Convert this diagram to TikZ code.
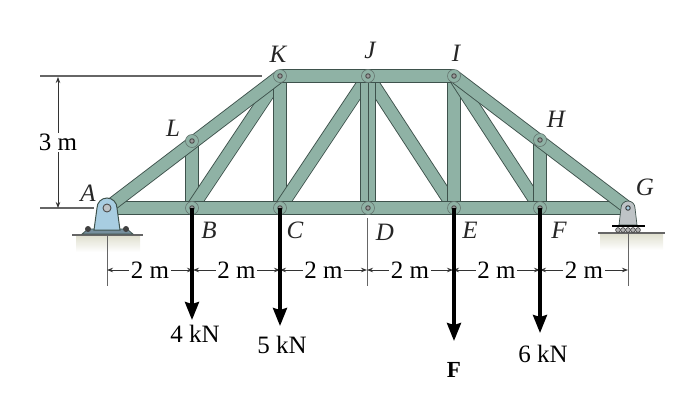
\documentclass[tikz,border=0pt]{standalone}
\usepackage{fontspec}
\setmainfont{Liberation Serif}
\usetikzlibrary{arrows.meta}
\definecolor{trussgreen}{RGB}{143,178,165}
\definecolor{trussdark}{RGB}{62,82,76}
\definecolor{pinblue}{RGB}{168,205,225}
\definecolor{pingray}{RGB}{190,195,198}
\definecolor{groundtan}{RGB}{222,222,205}
\begin{document}
\begin{tikzpicture}[x=1pt,y=-1pt,
	member/.style={
		line width=0.9pt, draw=trussdark, double=trussgreen, double distance=11.5pt
	},
	joint/.style={
		circle, draw=trussdark!80, fill=trussgreen, line width=0.6pt, inner sep=0pt, minimum size=13pt
	},
	hole/.style={
		circle, draw=black!70, fill=black!40, line width=0.9pt, inner sep=0pt, minimum size=4.5pt
	},
	extline/.style={
		draw=black!60, line width=1.4pt
	},
	dimline/.style={
		draw=black!80, line width=0.8pt, {Stealth[length=6pt,width=4.5pt]}-{Stealth[length=6pt,width=4.5pt]}
	},
	dimlabel/.style={
		fill=white, inner sep=1.5pt, font=\fontsize{25}{28}\selectfont
	},
	load/.style={
		draw=black, line width=3.4pt, -{Stealth[length=18pt,width=14pt,inset=2pt]}
	},
	loadlabel/.style={
		font=\fontsize{25}{28}\selectfont
	},
	jointlabel/.style={
		font=\fontsize{25}{28}\selectfont\itshape, text=black!85
	}]
	\useasboundingbox (0,0) rectangle (683,408);
	
	% Define the joints
	\coordinate (A) at (107,208);
	\coordinate (B) at (192,208);
	\coordinate (C) at (280,208);
	\coordinate (D) at (368,208);
	\coordinate (E) at (454,208);
	\coordinate (F) at (540,208);
	\coordinate (G) at (628,208);
	\coordinate (H) at (540,140);
	\coordinate (I) at (454,76);
	\coordinate (J) at (368,76);
	\coordinate (K) at (280,76);
	\coordinate (L) at (192,141);
	
	% Ground under the supports
	\shade[top color=groundtan, bottom color=white] (76,235) rectangle (140,252);
	\shade[top color=groundtan, bottom color=white] (600,233) rectangle (663,250);
	\draw[black!60, line width=1.2pt] (72,235) -- (143,235);
	\draw[black!60, line width=1.2pt] (598,233) -- (665,233);
	
	% Extension lines of the dimensions
	\coordinate (TOPL) at (40,76);
	\coordinate (TOPR) at (262,76);
	\coordinate (BOTL) at (40,208);
	\coordinate (BOTR) at (94,208);
	\draw[extline] (TOPL) -- (TOPR);
	\draw[extline] (BOTL) -- (BOTR);
	\draw[extline, line width=1pt] (107,235) -- (107,286);
	\draw[extline, line width=1pt] (367,218) -- (367,286);
	\draw[extline, line width=1pt] (628,233) -- (628,286);
	
	% Height dimension
	\coordinate (H1) at (58,77);
	\coordinate (H2) at (58,208);
	\draw[dimline] (H1) -- (H2) node[midway, dimlabel] (HL) {3 m};
	
	% Span dimensions
	\foreach \nm/\xa/\xb in {a/107/193,b/193/280,c/280/367,d/367/453,e/453/540,f/540/628}{
		\coordinate (\nm1) at (\xa,270);
		\coordinate (\nm2) at (\xb,270);
		\draw[dimline] (\nm1) -- (\nm2) node[midway, dimlabel] (\nm L) {2 m};
	}
	
	% Web members first, then the chords on top
	\foreach \p/\q in {L/B,K/B,K/C,C/J,J/E,I/E,I/F,H/F}{
		\draw[member] (\p) -- (\q);
	}
	\draw[member, double distance=13.5pt] (J) -- (D);
	\draw[trussdark, line width=0.9pt] (J) -- (D);
	\draw[member] (A) -- (G);
	\draw[member] (K) -- (I);
	\draw[member] (A) -- (K);
	\draw[member] (I) -- (G);
	
	% Pins at the joints
	\foreach \p in {B,C,D,E,F,H,I,J,K,L}{
		\node[joint] (P\p) at (\p) {};
		\node[hole] at (\p) {};
	}
	
	% Pin support at A
	\filldraw[fill=pinblue!70!black, draw=trussdark, line width=0.7pt] (82,234) -- (88,229) -- (127,229) -- (133,234) -- cycle;
	\fill[black!75] (88,229) circle (3pt);
	\fill[black!75] (126,229) circle (3pt);
	\filldraw[fill=pinblue, draw=trussdark, line width=1pt] (94,230) -- (97,208) arc[start angle=180, end angle=360, radius=10] -- (120,230) -- cycle;
	\node[hole, minimum size=8pt, draw=black!70, fill=pingray] at (A) {};
	
	% Roller support at G
	\filldraw[fill=pingray, draw=trussdark, line width=0.7pt] (619,225) -- (621,208) arc[start angle=180, end angle=360, radius=7] -- (637,225) -- cycle;
	\draw[black, line width=2.4pt] (612,226) -- (645,226);
	\foreach \x in {618,623,628,633,638}{
		\filldraw[fill=black!30, draw=black!80, line width=0.6pt] (\x,230) circle (2.4pt);
	}
	\node[hole, fill=pinblue, draw=black!80] at (G) {};
	
	% Applied loads
	\coordinate (LB) at (192,320);
	\coordinate (LC) at (280,326);
	\coordinate (LE) at (454,341);
	\coordinate (LF) at (540,333);
	\draw[load] (B) -- (LB);
	\draw[load] (C) -- (LC);
	\draw[load] (E) -- (LE);
	\draw[load] (F) -- (LF);
	\node[loadlabel] (T4) at (195,334) {4 kN};
	\node[loadlabel] (T5) at (282,345) {5 kN};
	\node[loadlabel, font=\fontsize{23}{26}\selectfont\bfseries] (TF) at (454,370) {F};
	\node[loadlabel] (T6) at (543,354) {6 kN};
	
	% Labels of the joints
	\node[jointlabel] (NK) at (278,54) {K};
	\node[jointlabel] (NJ) at (370,50) {J};
	\node[jointlabel] (NI) at (456,53) {I};
	\node[jointlabel] (NL) at (173,128) {L};
	\node[jointlabel] (NA) at (88,193) {A};
	\node[jointlabel] (NH) at (556,119) {H};
	\node[jointlabel] (NG) at (645,187) {G};
	\node[jointlabel] (NB) at (209,230) {B};
	\node[jointlabel] (NC) at (295,230) {C};
	\node[jointlabel] (ND) at (385,232) {D};
	\node[jointlabel] (NE) at (470,230) {E};
	\node[jointlabel] (NF) at (559,230) {F};
\end{tikzpicture}
\end{document}
